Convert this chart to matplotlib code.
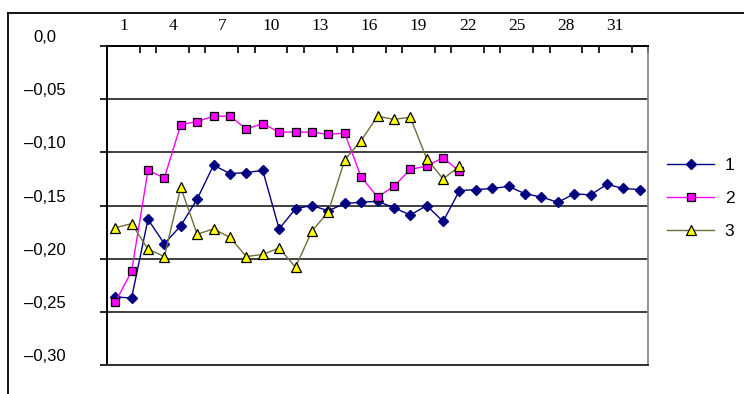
import matplotlib.pyplot as plt
from matplotlib.lines import Line2D
from matplotlib.transforms import ScaledTranslation
import numpy as np

# values of the three series along the categories 1..33
categories = list(range(1, 34))
series1 = [-0.236, -0.237, -0.163, -0.186, -0.169, -0.144, -0.112, -0.120, -0.119, -0.117,
           -0.172, -0.153, -0.150, -0.155, -0.148, -0.147, -0.146, -0.152, -0.159, -0.150,
           -0.165, -0.136, -0.135, -0.134, -0.132, -0.139, -0.142, -0.147, -0.139, -0.140,
           -0.130, -0.134, -0.135]
series2 = [-0.241, -0.212, -0.117, -0.124, -0.074, -0.071, -0.066, -0.066, -0.078, -0.073,
           -0.081, -0.081, -0.081, -0.083, -0.082, -0.123, -0.142, -0.132, -0.116, -0.113,
           -0.105, -0.118]
series3 = [-0.171, -0.167, -0.191, -0.198, -0.133, -0.177, -0.172, -0.180, -0.198, -0.196,
           -0.190, -0.208, -0.174, -0.156, -0.107, -0.089, -0.066, -0.069, -0.067, -0.106,
           -0.125, -0.113]
series_names = ["1", "2", "3"]
x_labels = categories[::3]
y_ticks = [0.0, -0.05, -0.10, -0.15, -0.20, -0.25, -0.30]
y_labels = ["0,0", "\u20130,05", "\u20130,10", "\u20130,15", "\u20130,20", "\u20130,25", "\u20130,30"]


def main():
    fig = plt.figure(figsize=(7.44, 3.94), dpi=100)
    ax = fig.add_axes([0.1438, 0.0736, 0.7272, 0.8096])

    ax.plot(categories[:len(series1)], series1, color="#000080", lw=1.0,
            marker="D", ms=4.8, mfc="#000080", mec="#000080", label=series_names[0])
    ax.plot(categories[:len(series2)], series2, color="#ff00ff", lw=1.0,
            marker="s", ms=5.5, mfc="#ff00ff", mec="black", mew=0.9, label=series_names[1])
    ax.plot(categories[:len(series3)], series3, color="#6e6e3c", lw=1.0,
            marker="^", ms=6.5, mfc="#ffff00", mec="black", mew=0.9, label=series_names[2])

    ax.set_xlim(0.5, len(categories) + 0.5)
    ax.set_ylim(-0.30, 0.0)

    # category axis sits on top (crosses at zero); labels at the right-hand tick of each category
    ax.xaxis.tick_top()
    ax.set_xticks([c + 0.5 for c in x_labels])
    ax.set_xticklabels([str(c) for c in x_labels], family="Liberation Serif", fontsize=12.5)
    ax.set_xticks(np.arange(0.5, len(categories) + 1), minor=True)
    ax.tick_params(axis="x", which="major", length=0, pad=9)
    ax.tick_params(axis="x", which="minor", direction="in", length=5, width=1.2, color="black",
                   top=True, bottom=False)

    ax.set_yticks(y_ticks)
    ax.set_yticklabels(y_labels, family="Liberation Sans", fontsize=12, ha="center")
    ax.tick_params(axis="y", which="major", direction="out", length=5, width=1.2, pad=40)
    shift = ScaledTranslation(0, 0.10, fig.dpi_scale_trans)
    for lab in ax.get_yticklabels():
        lab.set_transform(lab.get_transform() + shift)

    ax.yaxis.grid(True, color="#303030", lw=1.3)
    ax.set_axisbelow(True)

    for side in ["top", "left"]:
        ax.spines[side].set_color("black")
        ax.spines[side].set_linewidth(1.4)
    ax.spines["right"].set_color("#808080")
    ax.spines["right"].set_linewidth(1.2)
    ax.spines["bottom"].set_color("#303030")
    ax.spines["bottom"].set_linewidth(1.4)

    ax.legend(loc="upper left", bbox_to_anchor=(0.876, 0.64), bbox_transform=fig.transFigure,
              frameon=False, handlelength=2.7, handletextpad=0.6, labelspacing=1.05,
              prop={"family": "Liberation Sans", "size": 12.5})

    # chart area border (top and left edges)
    fig.add_artist(Line2D([0.011, 0.011], [0.0, 0.967], transform=fig.transFigure,
                          color="black", lw=1.3))
    fig.add_artist(Line2D([0.011, 1.0], [0.967, 0.967], transform=fig.transFigure,
                          color="black", lw=1.3))

    fig.savefig("out.png", dpi=100)


if __name__ == "__main__":
    main()
